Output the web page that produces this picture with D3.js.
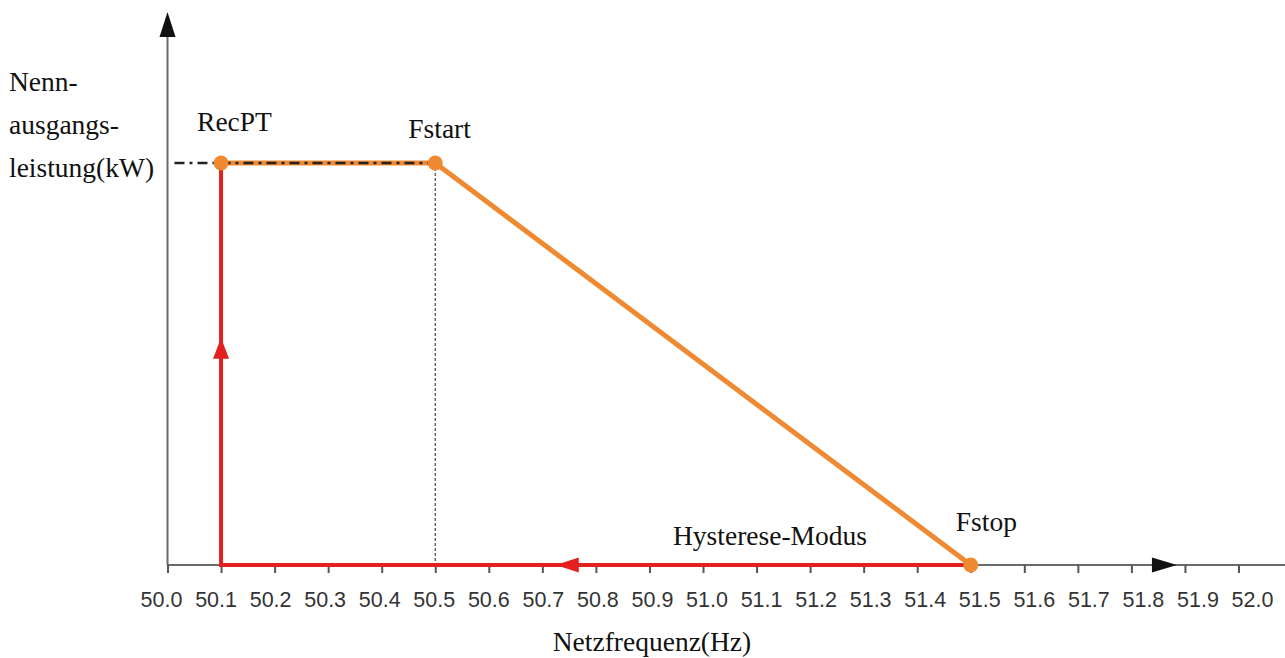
<!DOCTYPE html>
<html>
<head>
<meta charset="utf-8">
<script src="https://cdn.jsdelivr.net/npm/d3@7"></script>
<style>
  html, body { margin: 0; padding: 0; background: #fff; }
  svg { display: block; }
</style>
</head>
<body>
<svg id="chart" width="1285" height="658"></svg>
<script>
// Frequency axis ticks (Hz)
const freqTicks = d3.range(0, 21).map(i => +(50 + i * 0.1).toFixed(1));
// Characteristic points: frequency (Hz) and relative power (1 = rated output)
const pointNames = ["RecPT", "Fstart", "Fstop"];
const pointFreq  = [50.1, 50.5, 51.5];
const pointPower = [1, 1, 0];
// Hysteresis return path: Fstop -> RecPT along zero power, then up to rated power
const hystFreq  = [51.5, 50.1, 50.1];
const hystPower = [0, 0, 1];

const svg = d3.select("#chart");

const x = d3.scaleLinear().domain([50.0, 52.0]).range([167.5, 1238.5]);
// tick labels are set on a slightly wider spacing than the tick marks
const xLabel = d3.scaleLinear().domain([50.0, 52.0]).range([161, 1252]);
const y = d3.scaleLinear().domain([0, 1]).range([565, 163]);

const orange = "#EF8A32";
const red = "#E2211F";
const axisGrey = "#6b6b6b";
const serif = "'Liberation Serif', 'Times New Roman', serif";
const sans = "'Liberation Sans', Arial, sans-serif";
const serifSize = "27.5px";

// X axis (line extends past the last tick)
svg.append("line")
  .attr("x1", x(50.0)).attr("x2", 1285)
  .attr("y1", y(0)).attr("y2", y(0))
  .attr("stroke", axisGrey).attr("stroke-width", 2);

const gx = svg.append("g")
  .attr("transform", `translate(0,${y(0)})`)
  .call(d3.axisBottom(x).tickValues(freqTicks).tickFormat("")
    .tickSizeInner(8).tickSizeOuter(0));
gx.select(".domain").remove();
gx.selectAll(".tick line").attr("stroke", "#555").attr("stroke-width", 2);

const gxl = svg.append("g")
  .attr("transform", `translate(0,${y(0)})`)
  .call(d3.axisBottom(xLabel).tickValues(freqTicks).tickFormat(d3.format(".1f"))
    .tickSize(0).tickPadding(27));
gxl.select(".domain").remove();
gxl.selectAll(".tick line").remove();
gxl.selectAll(".tick text")
  .attr("fill", "#333")
  .style("font-family", sans)
  .style("font-size", "21.5px");

// X axis arrow head
const xArrowTip = x(51.885);
svg.append("path")
  .attr("d", d3.line()([[xArrowTip - 25, y(0) - 7.5], [xArrowTip, y(0)], [xArrowTip - 25, y(0) + 7.5]]) + "Z")
  .attr("fill", "#111");

// Y axis with arrow at the top
const yTop = 12;
svg.append("line")
  .attr("x1", x(50.0)).attr("x2", x(50.0))
  .attr("y1", y(0)).attr("y2", yTop + 10)
  .attr("stroke", axisGrey).attr("stroke-width", 2);
svg.append("path")
  .attr("d", d3.line()([[x(50.0) - 8, yTop + 25], [x(50.0), yTop], [x(50.0) + 8, yTop + 25]]) + "Z")
  .attr("fill", "#111");

// Vertical guide at Fstart
svg.append("line")
  .attr("x1", x(pointFreq[1])).attr("x2", x(pointFreq[1]))
  .attr("y1", y(1)).attr("y2", y(0))
  .attr("stroke", "#555").attr("stroke-width", 1.3)
  .attr("stroke-dasharray", "3,2");

// Hysteresis path (red)
const line = d3.line().x(d => x(d[0])).y(d => y(d[1]));
svg.append("path")
  .datum(hystFreq.map((f, i) => [f, hystPower[i]]))
  .attr("d", line)
  .attr("fill", "none")
  .attr("stroke", red).attr("stroke-width", 4)
  .attr("stroke-linejoin", "miter");

// Direction arrows on the hysteresis path
const hArrowX = x(50.725);
svg.append("path")
  .attr("d", d3.line()([[hArrowX, y(0)], [hArrowX + 23, y(0) - 7.5], [hArrowX + 23, y(0) + 7.5]]) + "Z")
  .attr("fill", red);
const vArrowY = y(0.565);
svg.append("path")
  .attr("d", d3.line()([[x(50.1), vArrowY], [x(50.1) - 8, vArrowY + 21], [x(50.1) + 8, vArrowY + 21]]) + "Z")
  .attr("fill", red);

// Power-frequency characteristic (orange)
svg.append("path")
  .datum(pointFreq.map((f, i) => [f, pointPower[i]]))
  .attr("d", line)
  .attr("fill", "none")
  .attr("stroke", orange).attr("stroke-width", 5)
  .attr("stroke-linejoin", "round");

// Rated power reference (dash-dot)
svg.append("line")
  .attr("x1", x(50.013)).attr("x2", x(pointFreq[1]))
  .attr("y1", y(1)).attr("y2", y(1))
  .attr("stroke", "#222").attr("stroke-width", 2.5)
  .attr("stroke-dasharray", "10,5,3,5");

// Characteristic points
const pts = pointFreq.map((f, i) => ({ f, p: pointPower[i], name: pointNames[i] }));
svg.selectAll("circle.pt")
  .data(pts)
  .join("circle")
  .attr("class", "pt")
  .attr("cx", d => x(d.f)).attr("cy", d => y(d.p))
  .attr("r", 7.5)
  .attr("fill", orange);

// Point labels
const labelOffsets = { RecPT: [-24, -32], Fstart: [-27, -25], Fstop: [-15, -34] };
svg.selectAll("text.pt-label")
  .data(pts)
  .join("text")
  .attr("class", "pt-label")
  .attr("x", d => x(d.f) + labelOffsets[d.name][0])
  .attr("y", d => y(d.p) + labelOffsets[d.name][1])
  .attr("fill", "#111")
  .style("font-family", serif)
  .style("font-size", serifSize)
  .text(d => d.name);

svg.append("text")
  .attr("x", 673).attr("y", 545)
  .attr("fill", "#111")
  .style("font-family", serif).style("font-size", serifSize)
  .text("Hysterese-Modus");

// Axis titles
svg.append("text")
  .attr("x", 652).attr("y", 651)
  .attr("text-anchor", "middle")
  .attr("fill", "#111")
  .style("font-family", serif).style("font-size", serifSize)
  .text("Netzfrequenz(Hz)");

const yTitle = ["Nenn-", "ausgangs-", "leistung(kW)"];
svg.append("text")
  .attr("fill", "#111")
  .style("font-family", serif).style("font-size", serifSize)
  .selectAll("tspan")
  .data(yTitle)
  .join("tspan")
  .attr("x", 9)
  .attr("y", (d, i) => 91 + i * 43)
  .text(d => d);
</script>
</body>
</html>
